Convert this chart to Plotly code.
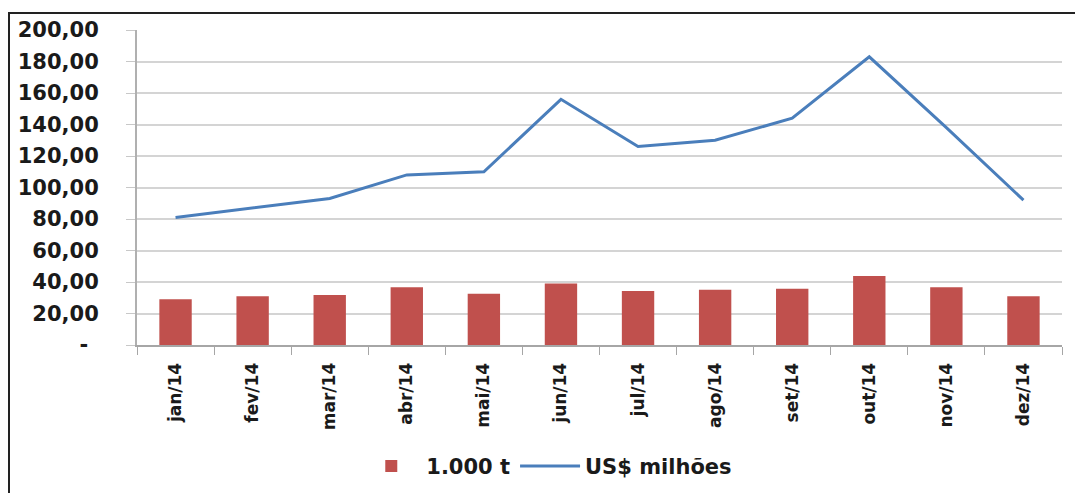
import plotly.graph_objects as go

months = ["jan/14", "fev/14", "mar/14", "abr/14", "mai/14", "jun/14",
          "jul/14", "ago/14", "set/14", "out/14", "nov/14", "dez/14"]
tonnes = [29, 31, 31.7, 36.6, 32.6, 39, 34.3, 35.1, 35.7, 43.8, 36.6, 31]
usd = [81, 87, 93, 108, 110, 156, 126, 130, 144, 183, 138, 92]
ytick_vals = [0, 20, 40, 60, 80, 100, 120, 140, 160, 180, 200]
ytick_text = ["-\u2002", "20,00", "40,00", "60,00", "80,00", "100,00", "120,00",
              "140,00", "160,00", "180,00", "200,00"]

FONT = "DejaVu Sans"
fig = go.Figure()
fig.add_trace(go.Bar(x=months, y=tonnes, name="1.000 t",
                     marker=dict(color="#c0504d", line=dict(width=0))))
fig.add_trace(go.Scatter(x=months, y=usd, name="US$ milhões", mode="lines",
                         line=dict(color="#4a7ebb", width=3)))

fig.update_layout(
    width=1075, height=493,
    margin=dict(l=137, r=13, t=30, b=148, autoexpand=False),
    paper_bgcolor="white", plot_bgcolor="white",
    bargap=0.58,
    font=dict(family=FONT, size=19, color="#1a1a1a", weight="bold"),
    showlegend=True,
    legend=dict(orientation="h", x=0.443, xanchor="center", y=-0.385,
                yanchor="middle", font=dict(family=FONT, size=21, weight="bold"),
                itemwidth=60, traceorder="normal"),
    xaxis=dict(type="category", tickangle=-90, tickson="boundaries",
               ticks="outside", ticklen=8, tickcolor="#a6a6a6",
               showline=True, linecolor="#a6a6a6", linewidth=2,
               showgrid=False, ticklabelstandoff=9, automargin=False,
               tickfont=dict(family=FONT, size=17, weight="bold")),
    yaxis=dict(range=[0, 200], tickvals=ytick_vals, ticktext=ytick_text,
               ticks="outside", ticklen=9, tickcolor="#c8c8c8",
               showline=True, linecolor="#b0b0b0", linewidth=2,
               showgrid=True, gridcolor="#d4d4d4", gridwidth=2,
               zeroline=False, ticklabelstandoff=23, automargin=False,
               tickfont=dict(family=FONT, size=21, weight="bold")),
    shapes=[dict(type="rect", xref="paper", yref="paper",
                 x0=(9 - 137) / 925, x1=1.2, y0=-1, y1=(345 - 13) / 315,
                 line=dict(color="#222222", width=2), fillcolor="rgba(0,0,0,0)",
                 layer="above")],
)

fig.write_html("out.html")
